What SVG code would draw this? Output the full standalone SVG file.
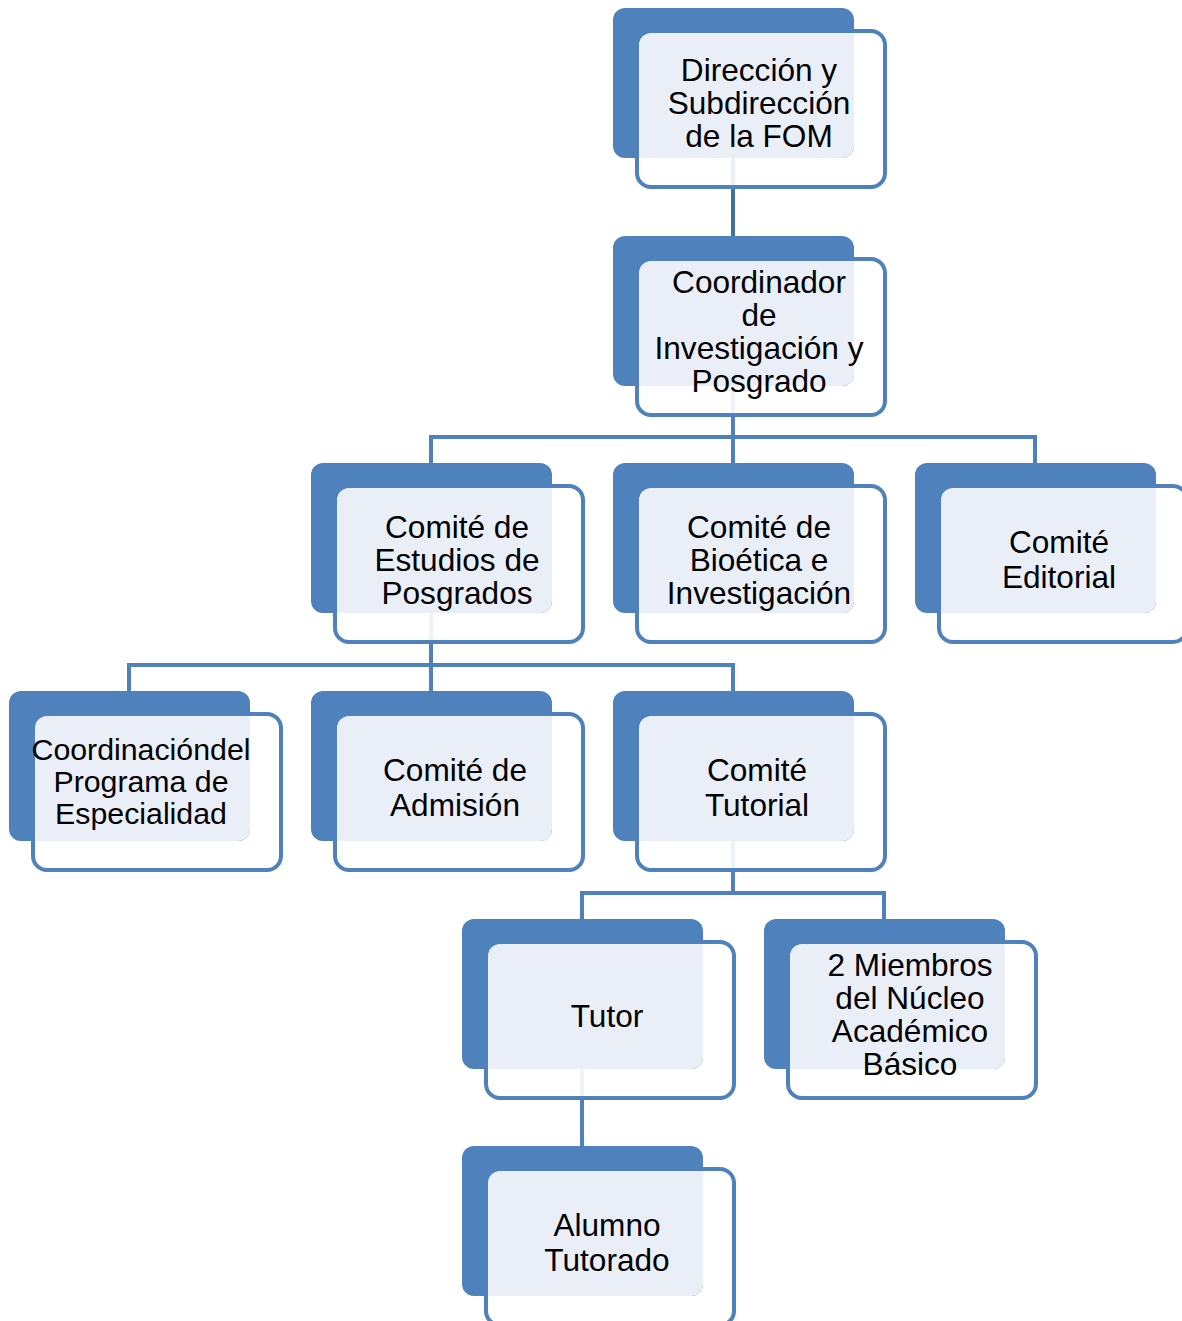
<svg xmlns="http://www.w3.org/2000/svg" xmlns:xlink="http://www.w3.org/1999/xlink" width="1182" height="1321" viewBox="0 0 1182 1321">
<style>
.conn{fill:none;stroke:#4F81BD;stroke-width:4;stroke-linejoin:miter}
.conn-dark{stroke:#41719F}
.front{fill:#FFFFFF;fill-opacity:0.9;stroke:#4F81BD;stroke-width:4}
.back{fill:#4F81BD}
.light{fill:#EAEFF7}
text{font-family:"Liberation Sans",Arial,sans-serif;font-size:31.6px;fill:#000;text-anchor:middle}
</style>
<defs>
<g id="box">
<rect class="front" x="24" y="23" width="248" height="156" rx="14"/>
<rect class="back" x="0" y="0" width="241" height="150" rx="12"/>
<path class="light" d="M38,25 H241 V138 A12,12 0 0 1 229,150 H26 V37 A12,12 0 0 1 38,25 Z"/>
</g>
</defs>
<g id="connectors">
<path class="conn conn-dark" d="M733,157 V236"/>
<path class="conn" d="M733,385 V463"/>
<path class="conn" d="M431,463 V437 H1035 V463"/>
<path class="conn" d="M431,613 V691"/>
<path class="conn" d="M129,691 V665 H733 V691"/>
<path class="conn" d="M733,841 V893"/>
<path class="conn" d="M582,919 V893 H884 V919"/>
<path class="conn" d="M582,1068 V1146"/>
</g>
<g id="n-direccion">
<use xlink:href="#box" x="613" y="8"/>
<text x="759" y="81">Dirección y</text>
<text x="759" y="114">Subdirección</text>
<text x="759" y="147">de la FOM</text>
</g>
<g id="n-coordinador">
<use xlink:href="#box" x="613" y="236"/>
<text x="759" y="293">Coordinador</text>
<text x="759" y="326">de</text>
<text x="759" y="359">Investigación y</text>
<text x="759" y="392">Posgrado</text>
</g>
<g id="n-estudios">
<use xlink:href="#box" x="311" y="463"/>
<text x="457" y="538">Comité de</text>
<text x="457" y="571">Estudios de</text>
<text x="457" y="604">Posgrados</text>
</g>
<g id="n-bioetica">
<use xlink:href="#box" x="613" y="463"/>
<text x="759" y="538">Comité de</text>
<text x="759" y="571">Bioética e</text>
<text x="759" y="604">Investigación</text>
</g>
<g id="n-editorial">
<use xlink:href="#box" x="915" y="463"/>
<text x="1059" y="553">Comité</text>
<text x="1059" y="588">Editorial</text>
</g>
<g id="n-coordinacion">
<use xlink:href="#box" x="9" y="691"/>
<text x="141" y="760" style="font-size:30.3px">Coordinacióndel</text>
<text x="141" y="792" style="font-size:30.3px">Programa de</text>
<text x="141" y="824" style="font-size:30.3px">Especialidad</text>
</g>
<g id="n-admision">
<use xlink:href="#box" x="311" y="691"/>
<text x="455" y="781">Comité de</text>
<text x="455" y="816">Admisión</text>
</g>
<g id="n-tutorial">
<use xlink:href="#box" x="613" y="691"/>
<text x="757" y="781">Comité</text>
<text x="757" y="816">Tutorial</text>
</g>
<g id="n-tutor">
<use xlink:href="#box" x="462" y="919"/>
<text x="607" y="1027">Tutor</text>
</g>
<g id="n-miembros">
<use xlink:href="#box" x="764" y="919"/>
<text x="910" y="976">2 Miembros</text>
<text x="910" y="1009">del Núcleo</text>
<text x="910" y="1042">Académico</text>
<text x="910" y="1075">Básico</text>
</g>
<g id="n-alumno">
<use xlink:href="#box" x="462" y="1146"/>
<text x="607" y="1236">Alumno</text>
<text x="607" y="1271">Tutorado</text>
</g>
</svg>
